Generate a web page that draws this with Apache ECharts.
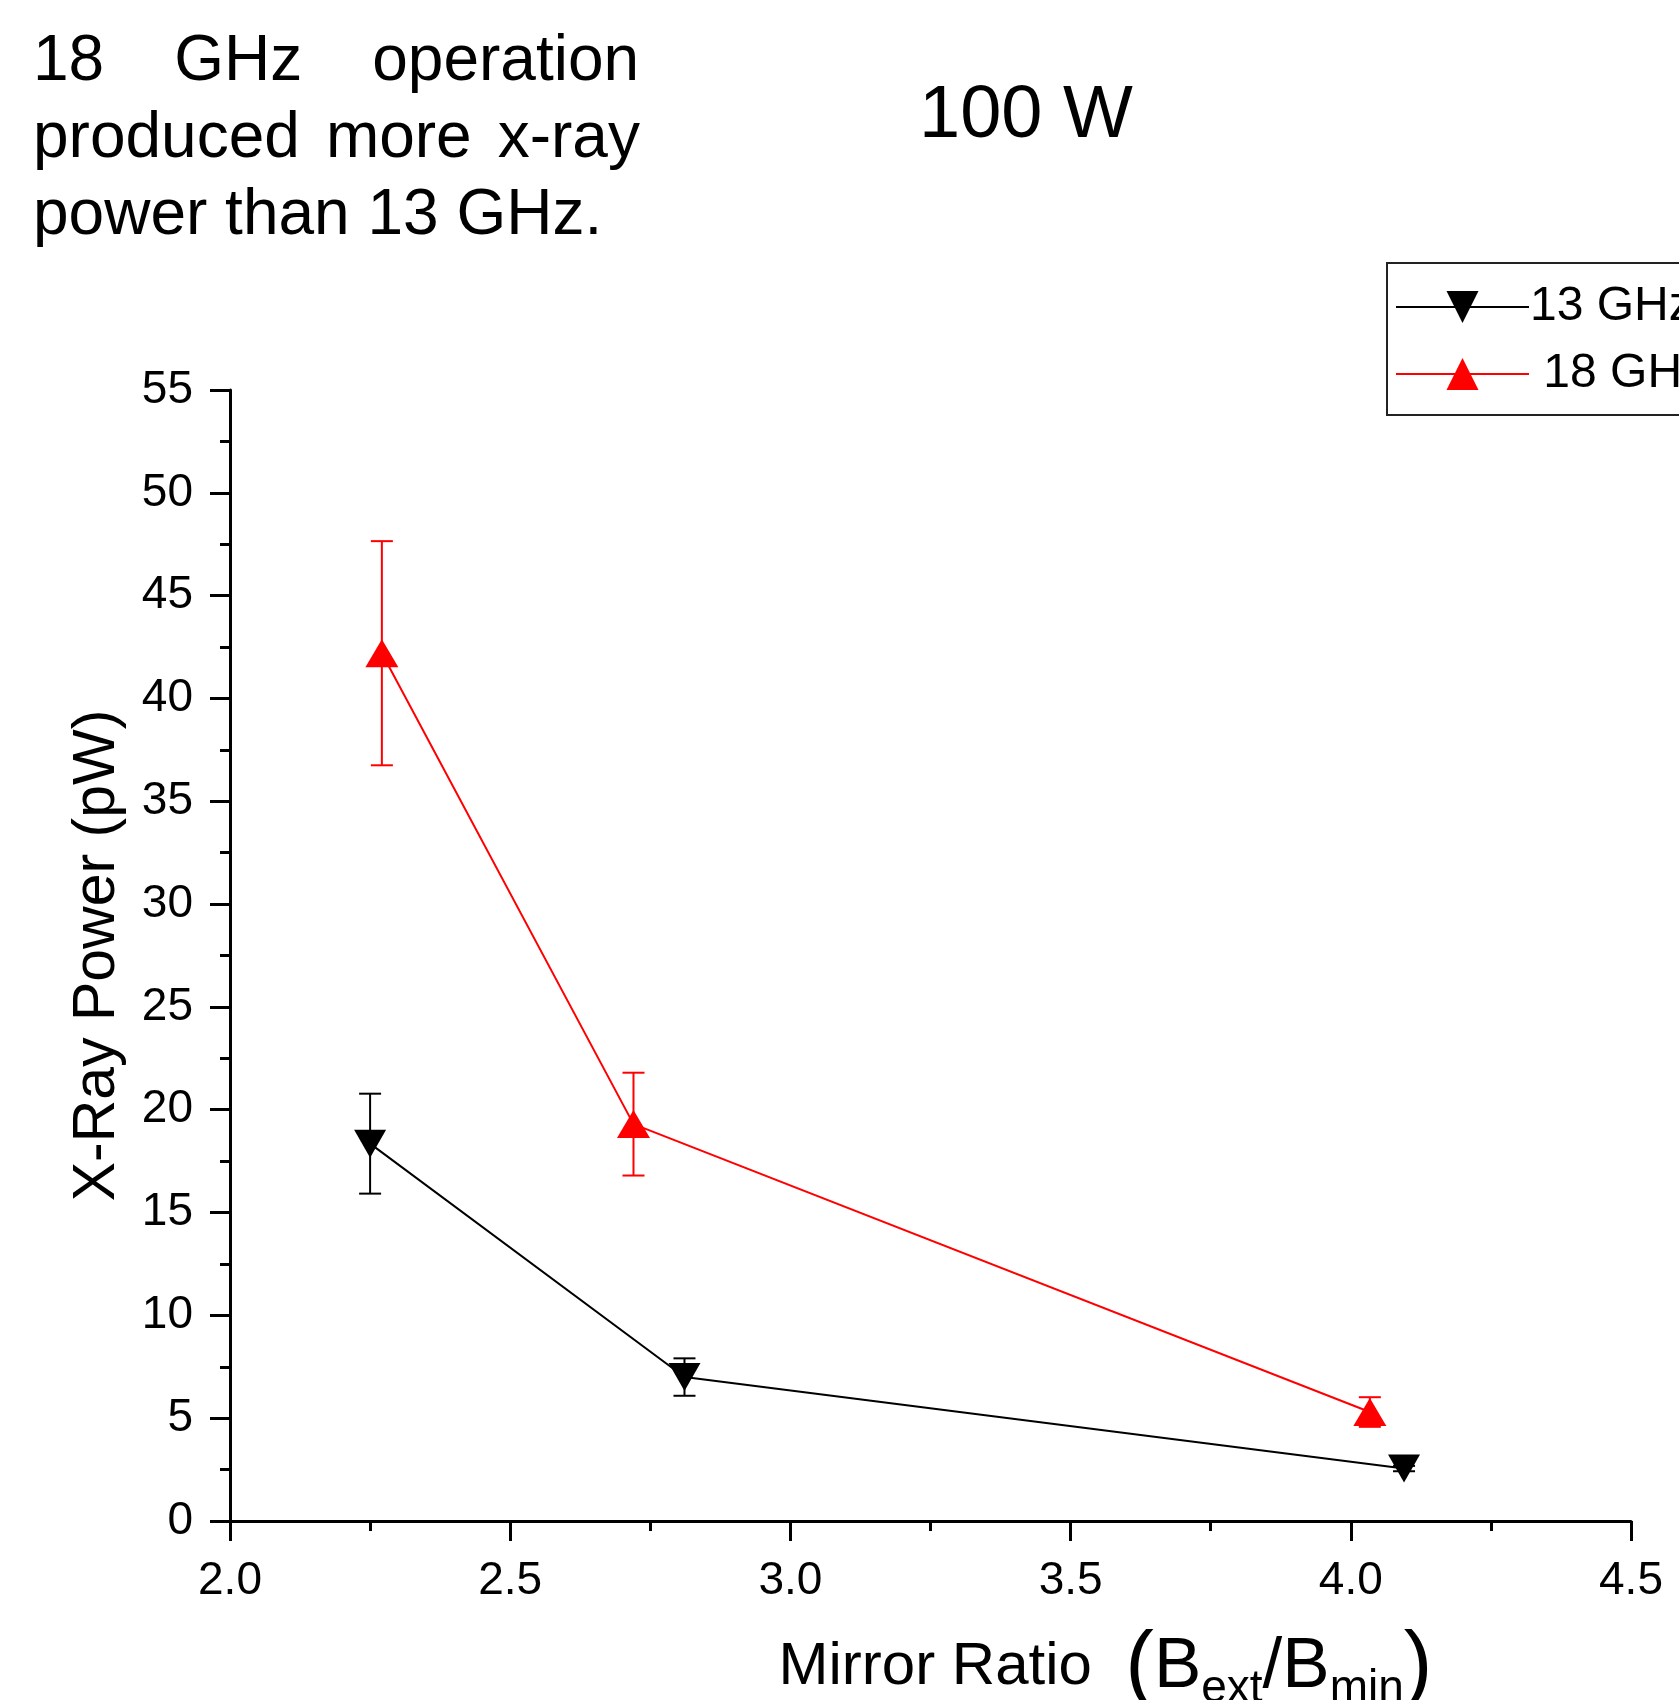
<!DOCTYPE html>
<html><head><meta charset="utf-8">
<script src="https://cdn.jsdelivr.net/npm/echarts@6/dist/echarts.min.js"></script>
<style>html,body{margin:0;padding:0;background:#fff}#c{width:1679px;height:1700px}</style>
</head><body><div id="c"></div>
<script>
// ---- data ----
const xTickValues = [2.0, 2.5, 3.0, 3.5, 4.0, 4.5];
const seriesNames = ['13 GHz', '18 GHz'];
const ghz13X = [2.25, 2.811, 4.095];
const ghz13Y = [18.35, 7.0, 2.55];
const ghz13Err = [2.43, 0.91, 0.13];
const ghz18X = [2.271, 2.720, 4.034];
const ghz18Y = [42.2, 19.3, 5.3];
const ghz18Err = [5.45, 2.5, 0.72];
const titleText = '100 W';
const noteLines = [['18', 'GHz', 'operation'], ['produced', 'more', 'x-ray'], ['power than 13 GHz.']];

const FF = '"Liberation Sans", Arial, sans-serif';
const pts = (xs, ys) => xs.map((x, i) => [x, ys[i]]);
const errs = (xs, ys, es) => xs.map((x, i) => [x, ys[i] - es[i], ys[i] + es[i]]);

function errRender(color) {
  return function (params, api) {
    const x = api.value(0), lo = api.value(1), hi = api.value(2);
    const a = api.coord([x, lo]), b = api.coord([x, hi]);
    const w = 11;
    const st = { stroke: color, lineWidth: 2 };
    return { type: 'group', children: [
      { type: 'line', shape: { x1: a[0], y1: a[1], x2: b[0], y2: b[1] }, style: st },
      { type: 'line', shape: { x1: a[0] - w, y1: a[1], x2: a[0] + w, y2: a[1] }, style: st },
      { type: 'line', shape: { x1: b[0] - w, y1: b[1], x2: b[0] + w, y2: b[1] }, style: st }
    ]};
  };
}

const noteText =
  '{w|' + noteLines[0][0] + '}{g1| }{w|' + noteLines[0][1] + '}{g1| }{w|' + noteLines[0][2] + '}\n' +
  '{w|' + noteLines[1][0] + '}{g2| }{w|' + noteLines[1][1] + '}{g2| }{w|' + noteLines[1][2] + '}\n' +
  '{w|' + noteLines[2][0] + '}';

const chart = echarts.init(document.getElementById('c'), null, { renderer: 'canvas' });
const axisLine = { lineStyle: { color: '#000', width: 3 } };
chart.setOption({
  animation: false,
  backgroundColor: '#fff',
  textStyle: { fontFamily: FF },
  title: [
    { text: titleText, left: 919, top: 80, padding: 0,
      textStyle: { fontSize: 74, fontWeight: 'normal', color: '#000', fontFamily: FF } },
    { text: noteText, left: 33, top: 24, padding: 0,
      textStyle: { fontSize: 64, fontWeight: 'normal', color: '#000', fontFamily: FF, lineHeight: 77,
        rich: {
          w: { fontSize: 64, lineHeight: 77, color: '#000', fontFamily: FF },
          g1: { fontSize: 64, lineHeight: 77, width: 70 },
          g2: { fontSize: 64, lineHeight: 77, width: 26 }
        } } }
  ],
  legend: {
    orient: 'vertical', left: 1387, top: 263,
    padding: [20, 10, 17, 8], itemGap: 19, itemWidth: 133, itemHeight: 40,
    borderColor: '#222', borderWidth: 2,
    data: seriesNames,
    formatter: n => (n === seriesNames[1] ? ' ' + n : n),
    textStyle: { fontSize: 48, color: '#000', fontFamily: FF, padding: [0, 0, 0, -4] }
  },
  grid: { left: 230, right: 48, top: 390, bottom: 179, containLabel: false, outerBoundsMode: 'none' },
  xAxis: {
    type: 'value', min: 2.0, max: 4.5, interval: 0.5,
    axisLine: axisLine,
    axisTick: { show: true, length: 20, lineStyle: { color: '#000', width: 3 } },
    minorTick: { show: true, splitNumber: 2, length: 10, lineStyle: { color: '#000', width: 3 } },
    splitLine: { show: false },
    axisLabel: { fontSize: 46, color: '#000', margin: 37, fontFamily: FF,
      formatter: v => (xTickValues.indexOf(+v.toFixed(1)) >= 0 ? v.toFixed(1) : '') },
    name: '{m|Mirror Ratio  }{p|(}{b|B}{s|ext}{b|/B}{s|min}{p|)}',
    nameLocation: 'middle', nameGap: 101,
    nameTextStyle: {
      padding: [0, 0, 0, 350],
      rich: {
        m: { fontSize: 60, lineHeight: 90, color: '#000', fontFamily: FF },
        p: { fontSize: 86, lineHeight: 90, color: '#000', fontFamily: FF },
        b: { fontSize: 71, lineHeight: 90, color: '#000', fontFamily: FF },
        s: { fontSize: 46, lineHeight: 28, verticalAlign: 'bottom', color: '#000', fontFamily: FF }
      }
    }
  },
  yAxis: {
    type: 'value', min: 0, max: 55, interval: 5,
    axisLine: axisLine,
    axisTick: { show: true, length: 20, lineStyle: { color: '#000', width: 3 } },
    minorTick: { show: true, splitNumber: 2, length: 10, lineStyle: { color: '#000', width: 3 } },
    splitLine: { show: false },
    axisLabel: { fontSize: 46, color: '#000', margin: 37, fontFamily: FF },
    name: 'X-Ray Power (pW)', nameLocation: 'middle', nameGap: 103,
    nameTextStyle: { fontSize: 59, color: '#000', fontFamily: FF }
  },
  series: [
    { type: 'custom', name: 'err13', data: errs(ghz13X, ghz13Y, ghz13Err),
      renderItem: errRender('#000'), encode: { x: 0, y: [1, 2] }, z: 1 },
    { type: 'custom', name: 'err18', data: errs(ghz18X, ghz18Y, ghz18Err),
      renderItem: errRender('#ff0000'), encode: { x: 0, y: [1, 2] }, z: 1 },
    { type: 'line', name: seriesNames[0], data: pts(ghz13X, ghz13Y),
      symbol: 'path://M0,0L10,0L5,10Z', symbolSize: [32, 28],
      lineStyle: { color: '#000', width: 2 }, itemStyle: { color: '#000' }, z: 3 },
    { type: 'line', name: seriesNames[1], data: pts(ghz18X, ghz18Y),
      symbol: 'triangle', symbolSize: [33, 28],
      lineStyle: { color: '#ff0000', width: 2 }, itemStyle: { color: '#ff0000' }, z: 3 }
  ]
});
</script>
</body></html>
